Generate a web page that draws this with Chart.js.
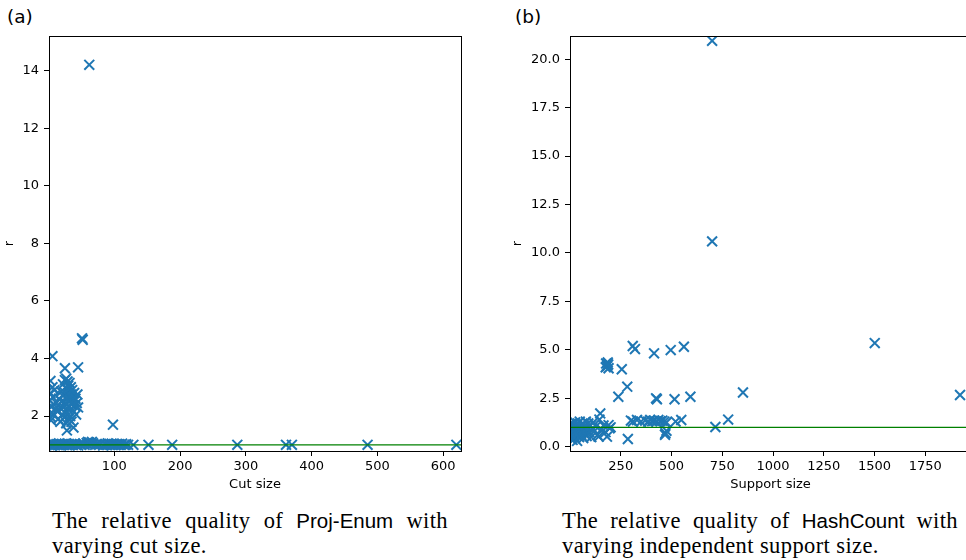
<!DOCTYPE html>
<html>
<head>
<meta charset="utf-8">
<script src="https://cdn.jsdelivr.net/npm/chart.js@4.4.0/dist/chart.umd.min.js"></script>
<style>
  html, body { margin: 0; padding: 0; background: #fff; }
  body { width: 966px; height: 560px; overflow: hidden; position: relative; }
  canvas { position: absolute; top: 0; }
  #chartA { left: 0; }
  #chartB { left: 500px; }
  .tag { position: absolute; top: 6px; font-family: "DejaVu Sans", sans-serif; font-size: 18.5px; color: #000; }
  .caption {
    position: absolute; width: 396px;
    font-family: "Liberation Serif", serif; font-size: 22.5px; line-height: 25px;
    letter-spacing: 0.4px; color: #000; white-space: nowrap;
  }
  .caption.l1 { top: 508px; text-align: justify; text-align-last: justify; }
  .caption.l2 { top: 533px; text-align: left; }
  .caption span { font-family: "Liberation Sans", sans-serif; font-size: 20.5px; letter-spacing: 0; }
</style>
</head>
<body>
<div class="tag" style="left:7px">(a)</div>
<div class="tag" style="left:515px">(b)</div>
<canvas id="chartA" width="480" height="500"></canvas>
<canvas id="chartB" width="480" height="500"></canvas>
<div class="caption l1" style="left:52px">The relative quality of <span>Proj-Enum</span> with</div>
<div class="caption l2" style="left:52px">varying cut size.</div>
<div class="caption l1" style="left:562px">The relative quality of <span>HashCount</span> with</div>
<div class="caption l2" style="left:562px">varying independent support size.</div>
<script>
// (a) cut size vs r
const cutSize = [
  62, 51, 52, 6, 25, 45, 98,
  3, 3, 4, 3, 2, 5, 4, 7, 8, 6, 9, 8, 10,
  12, 14, 15, 16, 17, 18, 19, 20, 21, 22, 22, 23, 24, 25, 25, 26, 26, 27, 27, 28,
  28, 28, 29, 29, 30, 30, 31, 31, 32, 32, 33, 33, 34, 34, 35, 35, 36, 36, 37, 38,
  38, 39, 40, 41, 42, 43, 44, 45,
  1, 2, 4, 5, 7, 9, 10, 12, 14, 16, 18, 19, 21, 23, 25, 27, 29, 31, 33, 35,
  37, 40, 42, 45, 48, 50, 53, 55, 58, 60, 62, 64, 66, 68, 71, 74, 77, 80, 83, 86,
  88, 90, 92, 94, 96, 98, 100, 102, 104, 106, 108, 110, 112, 115, 118, 121,
  129, 152, 188, 287, 361, 370, 485, 620
];
const ratioA = [
  14.2, 4.7, 4.65, 4.08, 3.66, 3.69, 1.7,
  3.22, 2.8, 2.32, 1.98, 2.55, 2.1, 1.85, 2.65, 2.4, 3.0, 2.9, 2.05, 2.25,
  2.45, 2.15, 1.9, 2.6, 2.3, 1.8, 2.85, 2.5, 2.05, 3.1, 2.7, 2.3, 1.95, 3.25, 2.8, 2.45, 2.1, 3.3, 1.75, 2.95,
  2.6, 1.5, 2.25, 3.2, 2.7, 3.05, 2.35, 1.9, 2.85, 3.15, 2.55, 2.0, 2.75, 3.0, 2.4, 1.8, 2.65, 2.9, 2.2, 2.5,
  1.6, 2.8, 2.35, 2.6, 2.05, 2.45, 2.75, 2.3,
  1.0, 1.02, 0.98, 1.0, 1.03, 1.0, 0.99, 1.02, 1.0, 1.05, 1.0, 0.98, 1.02, 1.0, 1.04, 1.0, 0.99, 1.03, 1.0, 1.02,
  1.0, 1.05, 1.0, 0.98, 1.02, 1.0, 1.03, 1.0, 1.06, 1.1, 1.08, 1.04, 1.1, 1.05, 1.0, 1.02, 1.0, 1.03, 0.98, 1.02,
  1.0, 1.05, 1.02, 1.0, 1.04, 1.0, 1.02, 0.99, 1.03, 1.0, 1.02, 1.0, 1.04, 1.0, 1.02, 1.0,
  1.0, 1.0, 1.0, 1.0, 1.0, 1.0, 1.0, 1.0
];
const xTicksA = [100, 200, 300, 400, 500, 600];
const yTicksA = [2, 4, 6, 8, 10, 12, 14];

// (b) support size vs r
const supportSize = [
  700, 700, 1501, 852, 1921, 779, 716, 309, 320, 414, 496, 561,
  178, 182, 186, 190, 183, 176, 188, 255,
  238, 282, 424, 428, 515, 593, 149, 285, 141, 182,
  300, 310, 330, 350, 370, 385, 395, 405, 415, 425, 435, 445, 455, 465, 475, 520, 548, 190, 200, 470, 475, 468,
  2, 3, 4, 5, 6, 8, 9, 10, 12, 13, 15, 16, 18, 20, 22, 24, 25, 27, 29, 31,
  33, 35, 37, 39, 41, 43, 45, 48, 50, 53, 56, 59, 62, 65, 68, 72, 75, 78, 82, 86,
  90, 95, 100, 105, 110, 115, 120, 128, 135, 145, 155, 165, 175, 195
];
const ratioB = [
  20.95, 10.6, 5.35, 2.8, 2.67, 1.4, 1.02, 5.2, 5.04, 4.82, 4.99, 5.16,
  4.3, 4.15, 4.35, 4.05, 4.2, 4.1, 4.25, 4.0,
  2.58, 3.1, 2.5, 2.45, 2.45, 2.58, 1.72, 0.4, 0.52, 0.52,
  1.35, 1.3, 1.38, 1.3, 1.35, 1.3, 1.38, 1.32, 1.35, 1.3, 1.38, 1.32, 1.35, 1.3, 1.25, 1.3, 1.38, 1.12, 1.0, 0.7, 0.82, 0.62,
  0.9, 0.6, 1.1, 0.4, 0.8, 1.0, 0.5, 1.2, 0.7, 0.35, 0.95, 1.15, 0.55, 0.85, 1.05, 0.45, 1.25, 0.75, 0.95, 0.6,
  1.1, 0.3, 0.85, 1.2, 0.65, 1.0, 0.5, 1.3, 0.8, 1.05, 0.6, 0.95, 1.2, 0.45, 0.9, 1.1, 0.7, 1.3, 0.55, 1.0,
  1.2, 0.75, 1.1, 0.5, 0.95, 1.25, 0.8, 1.05, 0.6, 1.4, 0.9, 1.1, 0.75, 0.95
];
const xTicksB = [250, 500, 750, 1000, 1250, 1500, 1750];
const yTicksB = [0, 2.5, 5, 7.5, 10, 12.5, 15, 17.5, 20];

const blue = "#1f77b4";
const tickFont = { family: "DejaVu Sans", size: 13 };

// box around the plot area, like matplotlib spines
const frame = {
  id: "frame",
  afterDraw(chart) {
    const { ctx, chartArea: a } = chart;
    ctx.save();
    ctx.strokeStyle = "#000";
    ctx.lineWidth = 1;
    ctx.strokeRect(Math.round(a.left) + 0.5, Math.round(a.top) + 0.5,
      Math.round(a.right - a.left), Math.round(a.bottom - a.top));
    ctx.restore();
  },
};

function makeChart(id, xs, ys, opt) {
  const pts = xs.map((x, i) => ({ x: x, y: ys[i] }));
  return new Chart(document.getElementById(id), {
    type: "scatter",
    data: {
      datasets: [
        {
          type: "line",
          data: [{ x: opt.xMin, y: 1 }, { x: opt.xMax, y: 1 }],
          borderColor: "#008000",
          borderWidth: 1.2,
          pointRadius: 0,
          order: 0,
          clip: 0,
        },
        {
          data: pts,
          pointStyle: "crossRot",
          pointRadius: 7,
          borderColor: blue,
          backgroundColor: blue,
          pointBorderWidth: 2,
          order: 1,
          clip: 0,
        },
      ],
    },
    options: {
      responsive: false,
      animation: false,
      events: [],
      layout: { padding: { top: 36, right: opt.padRight, left: 0, bottom: 0 } },
      plugins: { legend: { display: false }, tooltip: { enabled: false } },
      scales: {
        x: {
          type: "linear",
          min: opt.xMin,
          max: opt.xMax,
          afterFit: (s) => { s.height = 49; },
          afterBuildTicks: (s) => { s.ticks = opt.xTicks.map((v) => ({ value: v })); },
          grid: { drawOnChartArea: false, drawTicks: true, tickLength: 5, color: "#000" },
          border: { display: true, color: "#000" },
          ticks: { color: "#000", font: tickFont, padding: 3, maxRotation: 0, callback: (v) => String(v) },
          title: { display: true, text: opt.xTitle, color: "#000", font: tickFont, padding: { top: 0, bottom: 8 } },
        },
        y: {
          type: "linear",
          min: opt.yMin,
          max: opt.yMax,
          afterFit: (s) => { s.width = opt.yWidth; },
          afterBuildTicks: (s) => { s.ticks = opt.yTicks.map((v) => ({ value: v })); },
          grid: { drawOnChartArea: false, drawTicks: true, tickLength: 5, color: "#000" },
          border: { display: true, color: "#000" },
          ticks: { color: "#000", font: tickFont, padding: 5, callback: opt.yFmt },
          title: { display: true, text: "r", color: "#000", font: tickFont, padding: { top: opt.titlePad, bottom: 0 } },
        },
      },
    },
    plugins: [frame],
  });
}

makeChart("chartA", cutSize, ratioA, {
  xMin: 0.8, xMax: 627, yMin: 0.785, yMax: 15.2,
  xTicks: xTicksA, yTicks: yTicksA,
  xTitle: "Cut size", yWidth: 49, padRight: 19, titlePad: 2,
  yFmt: (v) => String(v),
});

makeChart("chartB", supportSize, ratioB, {
  xMin: 0, xMax: 1975, yMin: -0.22, yMax: 21.2,
  xTicks: xTicksB, yTicks: yTicksB,
  xTitle: "Support size", yWidth: 70, padRight: 5, titlePad: 10,
  yFmt: (v) => v.toFixed(1),
});
</script>
</body>
</html>
